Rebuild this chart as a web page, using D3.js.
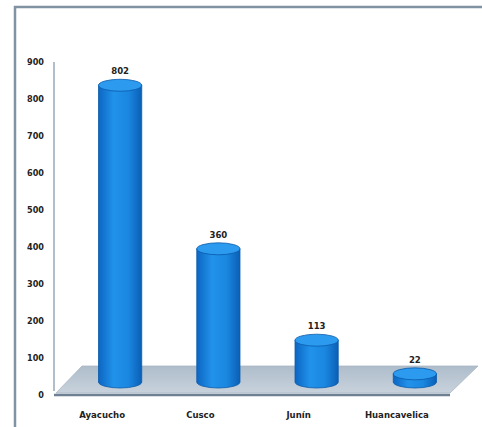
<!DOCTYPE html>
<html>
<head>
<meta charset="utf-8">
<script src="https://cdn.jsdelivr.net/npm/d3@7"></script>
<style>
  body { margin: 0; background: #fff; }
  svg { display: block; }
  .lbl { font-family: "Liberation Sans Narrow", "DejaVu Sans Condensed", "Liberation Sans", sans-serif; font-weight: bold; fill: #222; }
</style>
</head>
<body>
<svg id="chart" width="482" height="427"></svg>
<script>
// regions and counts
const regiones = ["Ayacucho", "Cusco", "Junín", "Huancavelica"];
const casos = [802, 360, 113, 22];
const ticks = [0, 100, 200, 300, 400, 500, 600, 700, 800, 900];

const svg = d3.select("#chart");

// frame round the picture
svg.append("path")
    .attr("d", "M15,427 L15,7 L482,7")
    .attr("fill", "none")
    .attr("stroke", "#8193a3")
    .attr("stroke-width", 2.5);

const y = d3.scaleLinear().domain([0, 900]).range([395, 62]);
const x = d3.scaleBand().domain(regiones).range([71, 464]).paddingInner(0.56).paddingOuter(0.28);

const depth = 13; // how far the bars sit back on the floor
const ry = 6;

// gradients
const defs = svg.append("defs");
const g1 = defs.append("linearGradient").attr("id", "cyl").attr("x1", "0").attr("x2", "1");
g1.append("stop").attr("offset", "0").attr("stop-color", "#0c66c2");
g1.append("stop").attr("offset", "0.35").attr("stop-color", "#2192ea");
g1.append("stop").attr("offset", "0.7").attr("stop-color", "#1a86df");
g1.append("stop").attr("offset", "1").attr("stop-color", "#0a5fb6");
const g2 = defs.append("linearGradient").attr("id", "floor").attr("x1", "0").attr("x2", "0").attr("y1", "0").attr("y2", "1");
g2.append("stop").attr("offset", "0").attr("stop-color", "#aebdcb");
g2.append("stop").attr("offset", "1").attr("stop-color", "#c8d2dc");

// floor
const y0 = y(0);
const fl = x.range()[0] - 15, fr = x.range()[1] - 14;
svg.append("polygon")
    .attr("points", [[fl, y0 - 2], [fl + 26, y0 - 29], [fr + 28, y0 - 29], [fr, y0 - 2]].join(" "))
    .attr("fill", "url(#floor)")
    .attr("stroke", "#a9b7c4")
    .attr("stroke-width", 0.8);
svg.append("line")
    .attr("x1", fl - 2).attr("x2", fr)
    .attr("y1", y0).attr("y2", y0)
    .attr("stroke", "#6d8193").attr("stroke-width", 2.5);

// y axis
const axis = svg.append("g")
    .attr("transform", "translate(54,0)")
    .call(d3.axisLeft(y).tickValues(ticks).tickSize(0).tickPadding(10));
axis.select(".domain").attr("d", `M0,${y(900)}V${y0 - 4}`).attr("stroke", "#7f93a6").attr("stroke-width", 1.2);
axis.selectAll("text").attr("class", "lbl").attr("font-size", 9).attr("font-family", null);

// cylinders
const bars = svg.append("g").selectAll("g").data(regiones).enter().append("g");
bars.append("path")
    .attr("d", (d, i) => {
        const x0 = x(d), w = x.bandwidth(), rx = w / 2;
        const top = y(casos[i]) - depth, bot = y0 - depth;
        return `M${x0},${top} L${x0},${bot} A${rx},${ry} 0 0 0 ${x0 + w},${bot} L${x0 + w},${top} Z`;
    })
    .attr("fill", "url(#cyl)")
    .attr("stroke", "#0a5aab")
    .attr("stroke-width", 0.8);
bars.append("ellipse")
    .attr("cx", d => x(d) + x.bandwidth() / 2)
    .attr("cy", (d, i) => y(casos[i]) - depth)
    .attr("rx", x.bandwidth() / 2)
    .attr("ry", ry)
    .attr("fill", "#2c9aee")
    .attr("stroke", "#0a5aab")
    .attr("stroke-width", 0.8);

// value labels
bars.append("text")
    .attr("class", "lbl")
    .attr("x", d => x(d) + x.bandwidth() / 2)
    .attr("y", (d, i) => y(casos[i]) - depth - 11)
    .attr("text-anchor", "middle")
    .attr("font-size", 9.5)
    .text((d, i) => casos[i]);

// category labels
svg.append("g").selectAll("text").data(regiones).enter().append("text")
    .attr("class", "lbl")
    .attr("x", d => x(d) + x.bandwidth() / 2 - 18)
    .attr("y", 418)
    .attr("text-anchor", "middle")
    .attr("font-size", 9.5)
    .text(d => d);
</script>
</body>
</html>
